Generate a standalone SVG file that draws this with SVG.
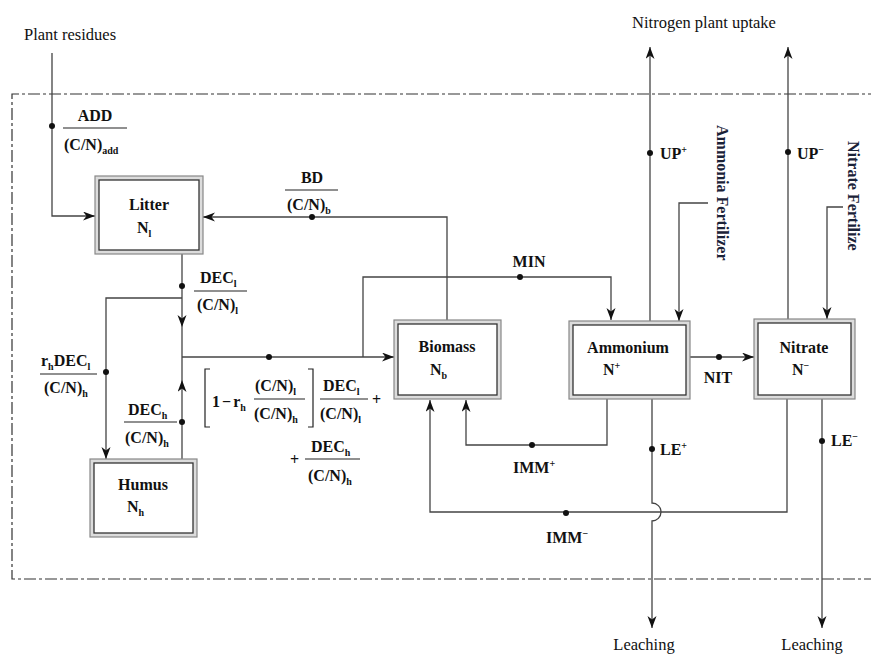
<svg xmlns="http://www.w3.org/2000/svg" width="871" height="655" viewBox="0 0 871 655">
<defs>
<style>
.b{font-family:"Liberation Serif","Times New Roman",serif;font-weight:bold;font-size:16px;fill:#111}
.r{font-family:"Liberation Serif","Times New Roman",serif;font-size:16.5px;fill:#111}
.f{font-family:"Liberation Serif","Times New Roman",serif;font-weight:bold;font-size:16px;fill:#1a2238}
.s{font-size:10px}
.ln{fill:none;stroke:#444;stroke-width:1.3}
.fr{fill:none;stroke:#222;stroke-width:1.2}
.bd{fill:none;stroke:#333;stroke-width:1.2;stroke-dasharray:12 3 3 3}
.o{fill:#dcdcdc;stroke:#888;stroke-width:1.2}
.i{fill:#fff;stroke:#333;stroke-width:1.3}
.d{fill:#111}
</style>
<marker id="ar" markerUnits="userSpaceOnUse" markerWidth="13" markerHeight="10" refX="12" refY="4.5" orient="auto">
<path d="M0,0 L12,4.5 L0,9 L3.5,4.5 Z" fill="#111"/>
</marker>
</defs>
<rect width="871" height="655" fill="#fff"/>
<path class="bd" d="M880,94 H12 V579 H880"/>
<text class="r" x="24" y="40">Plant residues</text>
<text class="r" x="704" y="28" text-anchor="middle">Nitrogen plant uptake</text>
<text class="r" x="644" y="650" text-anchor="middle">Leaching</text>
<text class="r" x="812" y="650" text-anchor="middle">Leaching</text>

<g id="connectors">
<path class="ln" d="M52,53 V216 H95" marker-end="url(#ar)"/>
<path class="ln" d="M447,320 V217 H203" marker-end="url(#ar)"/>
<path class="ln" d="M182,254 V327" marker-end="url(#ar)"/>
<path class="ln" d="M182,327 V357"/>
<path class="ln" d="M182,459 V380" marker-end="url(#ar)"/>
<path class="ln" d="M182,380 V357"/>
<path class="ln" d="M182,298 H106 V459" marker-end="url(#ar)"/>
<path class="ln" d="M182,357 H394" marker-end="url(#ar)"/>
<path class="ln" d="M363,357 V277 H611 V320" marker-end="url(#ar)"/>
<path class="ln" d="M708,203 H679 V321" marker-end="url(#ar)"/>
<path class="ln" d="M650,321 V47" marker-end="url(#ar)"/>
<path class="ln" d="M788,319 V47" marker-end="url(#ar)"/>
<path class="ln" d="M843,207 H827 V319" marker-end="url(#ar)"/>
<path class="ln" d="M690,357 H754" marker-end="url(#ar)"/>
<path class="ln" d="M652,399 V503 A9,9 0 0 1 652,521 V628" marker-end="url(#ar)"/>
<path class="ln" d="M822,399 V628" marker-end="url(#ar)"/>
<path class="ln" d="M607,399 V445 H466 V400" marker-end="url(#ar)"/>
<path class="ln" d="M787,399 V512 H430 V400" marker-end="url(#ar)"/>
<circle class="d" cx="52" cy="126" r="3"/>
<circle class="d" cx="312" cy="217" r="3"/>
<circle class="d" cx="182" cy="286" r="3"/>
<circle class="d" cx="106" cy="372" r="3"/>
<circle class="d" cx="182" cy="422" r="3"/>
<circle class="d" cx="269" cy="357" r="3"/>
<circle class="d" cx="520" cy="277" r="3"/>
<circle class="d" cx="719" cy="357" r="3"/>
<circle class="d" cx="650" cy="153" r="3"/>
<circle class="d" cx="788" cy="152" r="3"/>
<circle class="d" cx="652" cy="449" r="3"/>
<circle class="d" cx="822" cy="441" r="3"/>
<circle class="d" cx="532" cy="445" r="3"/>
<circle class="d" cx="566" cy="513" r="3"/>
</g>

<g id="labels">
<text class="b" x="95" y="121" text-anchor="middle">ADD</text>
<path class="fr" d="M63,128 H127"/>
<text class="b" x="64" y="150">(C/N)<tspan class="s" dy="4">add</tspan></text>

<text class="b" x="312" y="183" text-anchor="middle">BD</text>
<path class="fr" d="M285,190 H338"/>
<text class="b" x="287" y="210">(C/N)<tspan class="s" dy="4">b</tspan></text>

<text class="b" x="200" y="283">DEC<tspan class="s" dy="4">l</tspan></text>
<path class="fr" d="M194,291 H247"/>
<text class="b" x="197" y="310">(C/N)<tspan class="s" dy="4">l</tspan></text>

<text class="b" x="41" y="366">r<tspan class="s" dy="4">h</tspan><tspan dy="-4">DEC</tspan><tspan class="s" dy="4">l</tspan></text>
<path class="fr" d="M40,374 H97"/>
<text class="b" x="44" y="393">(C/N)<tspan class="s" dy="4">h</tspan></text>

<text class="b" x="128" y="415">DEC<tspan class="s" dy="4">h</tspan></text>
<path class="fr" d="M124,422 H177"/>
<text class="b" x="125" y="443">(C/N)<tspan class="s" dy="4">h</tspan></text>

<path class="fr" d="M210,369 H205 V427 H210"/>
<path class="fr" d="M308,369 H313 V427 H308"/>
<text class="b" x="212" y="407">1<tspan dx="2">−</tspan><tspan dx="2">r</tspan><tspan class="s" dy="4">h</tspan></text>
<text class="b" x="255" y="391">(C/N)<tspan class="s" dy="4">l</tspan></text>
<path class="fr" d="M254,399 H305"/>
<text class="b" x="254" y="419">(C/N)<tspan class="s" dy="4">h</tspan></text>
<text class="b" x="323" y="391">DEC<tspan class="s" dy="4">l</tspan></text>
<path class="fr" d="M320,399 H368"/>
<text class="b" x="320" y="419">(C/N)<tspan class="s" dy="4">l</tspan></text>
<text class="b" x="372" y="405">+</text>
<text class="b" x="290" y="465">+</text>
<text class="b" x="311" y="452">DEC<tspan class="s" dy="4">h</tspan></text>
<path class="fr" d="M305,459 H360"/>
<text class="b" x="308" y="481">(C/N)<tspan class="s" dy="4">h</tspan></text>

<text class="b" x="529" y="267" text-anchor="middle">MIN</text>
<text class="b" x="718" y="383" text-anchor="middle">NIT</text>
<text class="b" x="660" y="159">UP<tspan class="s" dy="-6">+</tspan></text>
<text class="b" x="797" y="159">UP<tspan class="s" dy="-6">−</tspan></text>
<text class="b" x="660" y="455">LE<tspan class="s" dy="-6">+</tspan></text>
<text class="b" x="831" y="446">LE<tspan class="s" dy="-6">−</tspan></text>
<text class="b" x="513" y="473">IMM<tspan class="s" dy="-6">+</tspan></text>
<text class="b" x="546" y="543">IMM<tspan class="s" dy="-6">−</tspan></text>

<text class="f" transform="translate(717,125) rotate(90)">Ammonia Fertilizer</text>
<text class="f" transform="translate(848,141) rotate(90)">Nitrate Fertilize</text>
</g>

<g id="litter">
<rect class="o" x="95" y="176" width="108" height="78"/>
<rect class="i" x="99" y="180" width="100" height="70"/>
<text class="b" x="149" y="210" text-anchor="middle">Litter</text>
<text class="b" x="137" y="233">N<tspan class="s" dy="4">l</tspan></text>
</g>

<g id="humus">
<rect class="o" x="90" y="459" width="107" height="78"/>
<rect class="i" x="94" y="463" width="99" height="70"/>
<text class="b" x="143" y="490" text-anchor="middle">Humus</text>
<text class="b" x="127" y="512">N<tspan class="s" dy="4">h</tspan></text>
</g>

<g id="biomass">
<rect class="o" x="394" y="320" width="107" height="79"/>
<rect class="i" x="398" y="324" width="99" height="71"/>
<text class="b" x="447" y="352" text-anchor="middle">Biomass</text>
<text class="b" x="430" y="375">N<tspan class="s" dy="4">b</tspan></text>
</g>

<g id="ammonium">
<rect class="o" x="569" y="321" width="121" height="78"/>
<rect class="i" x="573" y="325" width="113" height="70"/>
<text class="b" x="628" y="353" text-anchor="middle">Ammonium</text>
<text class="b" x="603" y="375">N<tspan class="s" dy="-6">+</tspan></text>
</g>

<g id="nitrate">
<rect class="o" x="754" y="319" width="101" height="80"/>
<rect class="i" x="758" y="323" width="93" height="72"/>
<text class="b" x="804" y="353" text-anchor="middle">Nitrate</text>
<text class="b" x="792" y="375">N<tspan class="s" dy="-6">−</tspan></text>
</g>
</svg>
